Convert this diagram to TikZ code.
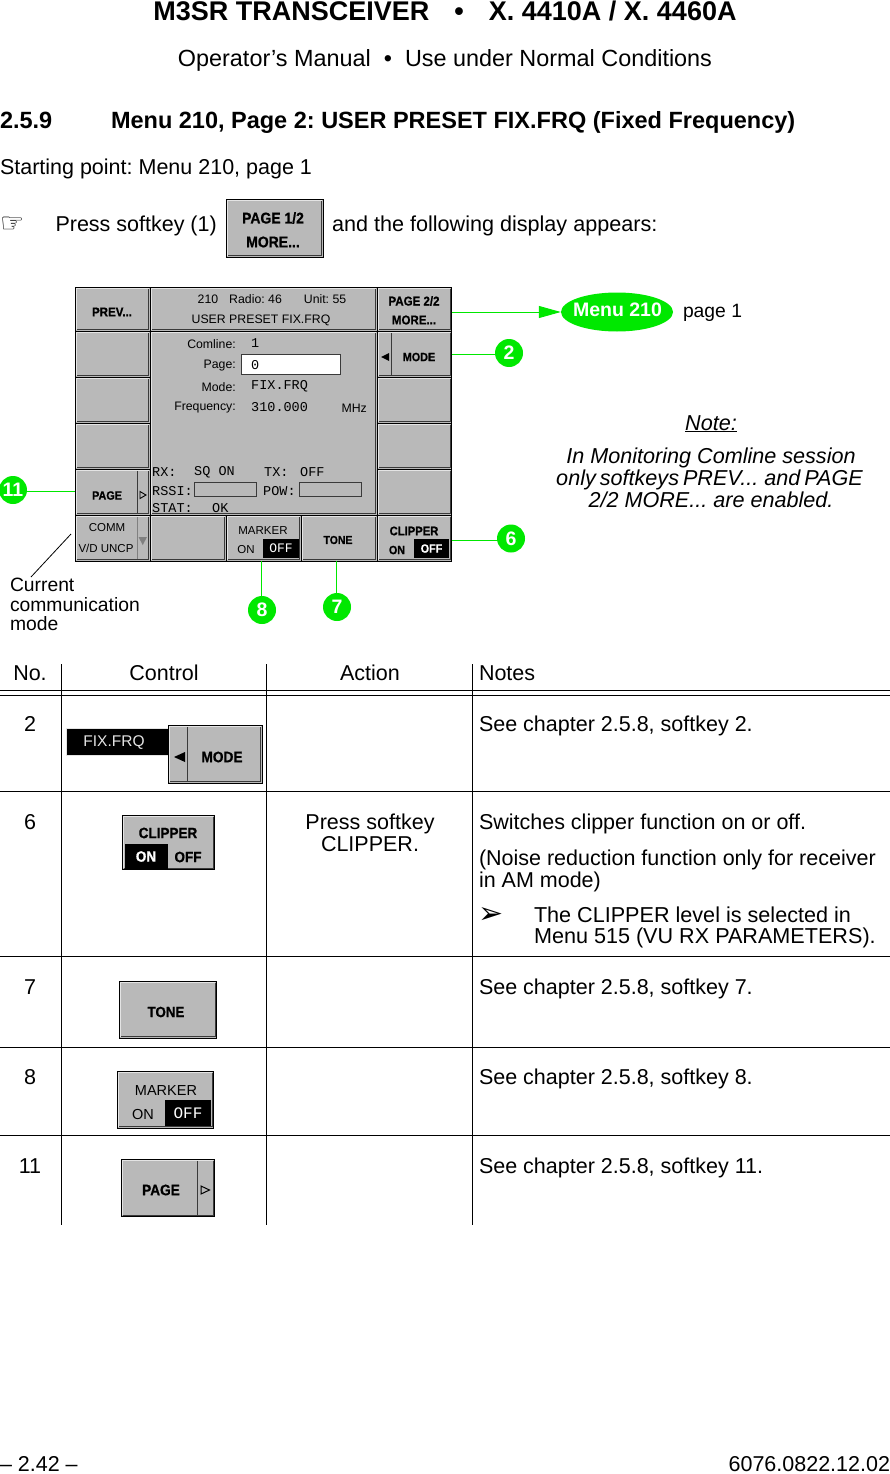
\documentclass[tikz,border=0pt]{standalone}
\usepackage{fontspec}
\setmainfont{Liberation Sans}
\setmonofont{Liberation Mono}
\newfontfamily\symfont{DejaVu Sans}
\newfontfamily\btnfont[FakeStretch=0.9,BoldFeatures={FakeBold=0.7}]{Liberation Sans}
\usetikzlibrary{shapes.geometric,arrows.meta}
\definecolor{keygray}{HTML}{B9B9B9}
\definecolor{litegray}{HTML}{E4E4E4}
\definecolor{darkgray}{HTML}{3A3A3A}
\definecolor{grn}{HTML}{00E800}
\newcommand\fs[1]{\fontsize{#1}{#1}\selectfont}
\newcommand\bt[1]{\fs{#1}\btnfont\bfseries}
\frenchspacing
\tikzset{
  x=1pt,y=-1pt,
  keybox/.style={draw=black,line width=1,fill=keygray,inner sep=0,outer sep=0,rectangle},
  txt/.style={anchor=base west,inner sep=0,outer sep=0,font=\fs{21.5}},
  ctr/.style={anchor=base,inner sep=0,outer sep=0,font=\fs{21.5},align=center},
  rgt/.style={anchor=base east,inner sep=0,outer sep=0,font=\fs{21.5}},
  lab/.style={anchor=center,inner sep=0,outer sep=0},
  rule/.style={line width=1,black},
  gline/.style={line width=1,grn},
  badge/.style={circle,fill=grn,text=white,inner sep=0,minimum size=28,font=\fs{19.5}\bfseries},
}
% name, x0,y0,x1,y1
\newcommand\skey[5]{%
  \pgfmathsetmacro\kw{#4-#2}\pgfmathsetmacro\kh{#5-#3}%
  \pgfmathsetmacro\kx{(#2+#4)/2}\pgfmathsetmacro\ky{(#3+#5)/2}%
  \node[keybox,minimum width=\kw pt,minimum height=\kh pt] (#1) at (\kx,\ky) {};
  \draw[litegray,line width=1.3] ([shift={(1.2,\kh-1.5)}]#1.north west) -- ([shift={(1.2,1.2)}]#1.north west) -- ([shift={(\kw-1.5,1.2)}]#1.north west);
  \draw[darkgray,line width=1.2] ([shift={(1.5,-1.2)}]#1.south west) -- ([shift={(-1.2,-1.2)}]#1.south east) -- ([shift={(-1.2,1.5-\kh)}]#1.south east);
}
\begin{document}
\begin{tikzpicture}
\useasboundingbox (0,0) rectangle (890,1474);
\fill[white] (0,0) rectangle (890,1474);
% header
\node[ctr,font=\fs{27}\bfseries] (title) at (445,21) {M3SR TRANSCEIVER\hspace{17.5pt} •\hspace{17.5pt} X. 4410A / X. 4460A};
\node[ctr,font=\fs{23.4}] (subtitle) at (445,66.5) {Operator’s Manual\hspace{6.5pt} •\hspace{6.5pt} Use under Normal Conditions};
\node[txt,font=\fs{23.5}\bfseries] (secnum) at (0,128.5) {2.5.9};
\node[txt,font=\fs{23.5}\bfseries] (sectitle) at (111,128.5) {Menu 210, Page 2: USER PRESET FIX.FRQ (Fixed Frequency)};
\node[txt] (start) at (0,175) {Starting point: Menu 210, page 1};
\node[txt,font=\fs{27}\symfont] (hand) at (0,232) {☞};
\node[txt] (press) at (55.5,231.5) {Press softkey (1)};
\skey{kone}{226.5}{199.5}{323}{257}
\node[lab,font=\bt{15.5}] (konea) at (273,218) {PAGE 1/2};
\node[lab,font=\bt{15.5}] (koneb) at (273,242) {MORE...};
\node[txt,font=\fs{21.6}] (follow) at (332,231.5) {and the following display appears:};
% screen
\skey{sprev}{75}{287}{150}{331}
\skey{sl2}{75}{331}{150}{377}
\skey{sl3}{75}{377}{150}{423}
\skey{sl4}{75}{423}{150}{469}
\skey{spage}{75}{469}{150}{515}
\skey{scomm}{75}{515}{150}{561}
\skey{shead}{150}{287}{377}{331}
\skey{sbody}{150}{331}{377}{515}
\skey{sblank}{150}{515}{226}{561}
\skey{smark}{226}{515}{301}{561}
\skey{stone}{301}{515}{377}{561}
\skey{snext}{377}{287}{451.5}{331}
\skey{smode}{377}{331}{451.5}{377}
\skey{sr3}{377}{377}{451.5}{423}
\skey{sr4}{377}{423}{451.5}{469}
\skey{sr5}{377}{469}{451.5}{515}
\skey{sclip}{377}{515}{451.5}{561}
\node[lab,font=\bt{12.8}] (tprev) at (112,312) {PREV...};
\node[lab,font=\fs{12.3}] (thead) at (272,299) {210\hspace{11pt}Radio: 46\hspace{22pt}Unit: 55};
\node[lab,font=\fs{12.3}] (thead2) at (261,320) {USER PRESET FIX.FRQ};
\node[lab,font=\bt{12.8}] (tnexta) at (414,301) {PAGE 2/2};
\node[lab,font=\bt{12.8}] (tnextb) at (414,320) {MORE...};
\node[anchor=east,inner sep=0,font=\fs{12.3}] (tcom) at (236,344) {Comline:};
\node[anchor=east,inner sep=0,font=\fs{12.3}] (tpg) at (236,366) {Page:};
\node[anchor=east,inner sep=0,font=\fs{12.3}] (tmd) at (236,387) {Mode:};
\node[anchor=east,inner sep=0,font=\fs{12.3}] (tfr) at (236,408) {Frequency:};
\node[anchor=west,inner sep=0,font=\fs{13.5}\ttfamily] (vcom) at (251,343) {1};
\node[draw=darkgray,line width=1,fill=white,minimum width=99,minimum height=20,inner sep=0] (vbox) at (291,364.5) {};
\node[anchor=west,inner sep=0,font=\fs{13.5}\ttfamily] (vpg) at (251,365) {0};
\node[anchor=west,inner sep=0,font=\fs{13.5}\ttfamily] (vmd) at (251,386) {FIX.FRQ};
\node[anchor=west,inner sep=0,font=\fs{13.5}\ttfamily] (vfr) at (251,407) {310.000};
\node[anchor=east,inner sep=0,font=\fs{12.3}] (vmhz) at (367,408) {MHz};
\node[anchor=west,inner sep=0,font=\fs{13.5}\ttfamily] (trx) at (152,472) {RX:};
\node[anchor=west,inner sep=0,font=\fs{13.5}\ttfamily] (trxv) at (194,472) {SQ ON};
\node[anchor=west,inner sep=0,font=\fs{13.5}\ttfamily] (ttx) at (264,472) {TX:};
\node[anchor=west,inner sep=0,font=\fs{13.5}\ttfamily] (ttxv) at (300,472) {OFF};
\node[anchor=west,inner sep=0,font=\fs{13.5}\ttfamily] (trs) at (152,491) {RSSI:};
\node[draw=darkgray,line width=.9,minimum width=62,minimum height=14,inner sep=0] (brs) at (225.5,489) {};
\node[anchor=west,inner sep=0,font=\fs{13.5}\ttfamily] (tpw) at (263,491) {POW:};
\node[draw=darkgray,line width=.9,minimum width=62,minimum height=14,inner sep=0] (bpw) at (330,489) {};
\node[anchor=west,inner sep=0,font=\fs{13.5}\ttfamily] (tst) at (152,508) {STAT:};
\node[anchor=west,inner sep=0,font=\fs{13.5}\ttfamily] (tok) at (212,508) {OK};
% left softkeys details
\draw[darkgray,line width=1] (137,471) -- (137,513);
\node[lab,font=\bt{12}] (tpage) at (107,495.5) {PAGE};
\draw[black,line width=.9,fill=keygray] (140,491.5) -- (146,495) -- (140,498.5) -- cycle;
\draw[gray,line width=1] (137,517) -- (137,559);
\node[lab,font=\fs{11.5}] (tcomm) at (107,528) {COMM};
\node[lab,font=\fs{11.5}] (tvd) at (106,548) {V/D UNCP};
\fill[gray] (138.5,537) -- (147,537) -- (142.75,545) -- cycle;
% right softkeys details
\draw[darkgray,line width=1] (391,333) -- (391,375);
\fill[black] (381,357) -- (389,353) -- (389,361) -- cycle;
\node[lab,font=\bt{12}] (tmode) at (419,357) {MODE};
% bottom softkeys
\node[lab,font=\fs{11.5}] (tmark) at (263,531) {MARKER};
\node[lab,font=\fs{11.5}] (tmon) at (246,550) {ON};
\node[fill=black,text=white,minimum width=36,minimum height=19,inner sep=0,font=\fs{13}\ttfamily] (tmoff) at (281,548.5) {OFF};
\node[lab,font=\bt{11.6}] (ttone) at (338,540) {TONE};
\node[lab,font=\bt{12.5}] (tclip) at (414,531) {CLIPPER};
\node[lab,font=\bt{12}] (tcon) at (397,550) {ON};
\node[fill=black,text=white,minimum width=35,minimum height=19,inner sep=0,font=\bt{12}] (tcoff) at (431.5,548.5) {OFF};
% callouts
\node[ellipse,fill=grn,inner sep=0,minimum width=112,minimum height=39] (menu) at (617,312) {};
\node[lab,text=white,font=\fs{19.5}\bfseries] (menut) at (617.5,310) {Menu 210};
\node[txt,font=\fs{19.3}] (pageone) at (683,317) {page 1};
\node[badge] (c2) at (509,353) {2};
\node[badge] (c6) at (511,538.5) {6};
\node[badge] (c11) at (13,490) {11};
\node[badge] (c8) at (262,610) {8};
\node[badge] (c7) at (337,607) {7};
\draw[gline,-{Triangle[length=22,width=12,fill=grn]}] (snext.east |- 0,312) -- (menu.west);
\draw[gline] (smode.east) -- (c2.west |- smode.east);
\draw[gline] (sclip.east |- 0,540) -- (c6.west |- 0,540);
\draw[gline] (c11.east |- 0,491) -- (spage.west |- 0,491);
\draw[gline] (261,561) -- (261,597);
\draw[gline] (336.5,561) -- (c7.north -| 336.5,0);
\node[txt,font=\fs{19.3}] (cura) at (10,591) {Current};
\node[txt,font=\fs{19.3}] (curb) at (10,611) {communication};
\node[txt,font=\fs{19.3}] (curc) at (10,630) {mode};
\coordinate (cla) at (71,534);
\coordinate (clb) at (31,577);
\draw[black,line width=.8] (cla) -- (clb);
% note
\node[ctr,font=\fs{21.6}\itshape] (note) at (711,430) {\underline{Note:}};
\node[ctr,font=\fs{21.6}\itshape] (nla) at (711,463) {In Monitoring Comline session};
\node[ctr,font=\fs{21.6}\itshape] (nlb) at (709.5,485) {only\hspace{4pt}softkeys\hspace{4pt}PREV... and\hspace{4pt}PAGE};
\node[ctr,font=\fs{21.6}\itshape] (nlc) at (711,507) {2/2 MORE... are enabled.};
% table
\node[ctr] (hno) at (30,680) {No.};
\node[ctr] (hctl) at (164,680) {Control};
\node[ctr] (hact) at (370,680) {Action};
\node[txt] (hnot) at (479,680) {Notes};
\coordinate (lt) at (0,690); \coordinate (rt) at (890,690);
\draw[rule] (lt) -- (rt);
\draw[rule] (0,695.5) -- (890,695.5);
\draw[rule] (0,791) -- (890,791);
\draw[rule] (0,956) -- (890,956);
\draw[rule] (0,1047.5) -- (890,1047.5);
\draw[rule] (0,1135.5) -- (890,1135.5);
\draw[rule] (61,664) -- (61,1225);
\draw[rule] (266.5,664) -- (266.5,1225);
\draw[rule] (472.5,664) -- (472.5,1225);
% row 2
\node[ctr] (n2) at (30,731) {2};
\node[fill=black,draw=litegray,line width=.8,minimum width=102,minimum height=27,inner sep=0] (tfix) at (117,741.5) {};
\node[lab,text=litegray,font=\fs{15.5}] (tfixt) at (114,742.5) {FIX.FRQ};
\skey{rmode}{168}{725}{262}{783}
\draw[darkgray,line width=1] (187,727) -- (187,781);
\fill[black] (174,757) -- (185,752) -- (185,762) -- cycle;
\node[lab,font=\bt{15.2}] (rmodet) at (222,757) {MODE};
\node[txt] (d2) at (479,731) {See chapter 2.5.8, softkey 2.};
% row 6
\node[ctr] (n6) at (30,829) {6};
\skey{rclip}{122.5}{815.5}{214.5}{869.5}
\node[lab,font=\bt{15}] (rclipt) at (168,833) {CLIPPER};
\node[fill=black,text=white,minimum width=43,minimum height=25,inner sep=0,font=\bt{15}] (rclipon) at (146,856.5) {ON};
\node[lab,font=\bt{15}] (rclipoff) at (188,857) {OFF};
\node[ctr] (a6a) at (370,829) {Press softkey};
\node[ctr] (a6b) at (370,851) {CLIPPER.};
\node[txt] (d6a) at (479,829) {Switches clipper function on or off.};
\node[txt] (d6b) at (479,865) {(Noise reduction function only for receiver};
\node[txt] (d6c) at (479,887) {in AM mode)};
\node[txt,font=\fs{30}\symfont] (d6m) at (478,923) {➢};
\node[txt,font=\fs{21.6}] (d6d) at (534,922) {The CLIPPER level is selected in};
\node[txt,font=\fs{21.6}] (d6e) at (534,943) {Menu 515 (VU RX PARAMETERS).};
% row 7
\node[ctr] (n7) at (30,994) {7};
\skey{rtone}{119.5}{981}{216.5}{1038}
\node[lab,font=\bt{14.8}] (rtonet) at (166,1012) {TONE};
\node[txt] (d7) at (479,994) {See chapter 2.5.8, softkey 7.};
% row 8
\node[ctr] (n8) at (30,1084) {8};
\skey{rmark}{117.5}{1071}{213.5}{1128}
\node[lab,font=\fs{14.5}] (rmarkt) at (166,1090) {MARKER};
\node[lab,font=\fs{14.5}] (rmarkon) at (143,1114) {ON};
\node[fill=black,text=white,minimum width=46,minimum height=26,inner sep=0,font=\fs{16}\ttfamily] (rmarkoff) at (188,1113) {OFF};
\node[txt] (d8) at (479,1084) {See chapter 2.5.8, softkey 8.};
% row 11
\node[ctr] (n11) at (30,1173) {11};
\skey{rpage}{121}{1159.5}{214.5}{1216.5}
\draw[darkgray,line width=1] (197,1161) -- (197,1215);
\draw[black,line width=1,fill=keygray] (201,1186) -- (209.5,1190) -- (201,1194) -- cycle;
\node[lab,font=\bt{15.2}] (rpaget) at (161,1190) {PAGE};
\node[txt] (d11) at (479,1173) {See chapter 2.5.8, softkey 11.};
% footer
\node[txt] (fl) at (0,1471) {– 2.42 –};
\node[rgt] (fr) at (890,1471) {6076.0822.12.02};
\end{tikzpicture}
\end{document}
